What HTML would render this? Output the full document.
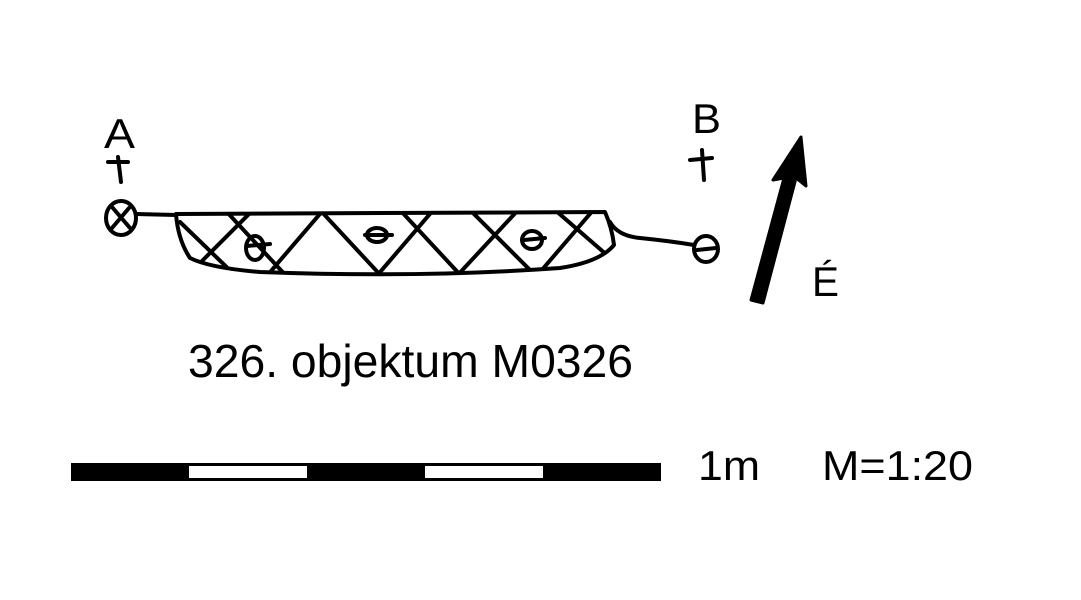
<!DOCTYPE html>
<html><head><style>html,body{margin:0;padding:0;background:#fff;}svg{display:block}</style></head>
<body>
<svg width="1081" height="600" viewBox="0 0 1081 600" xmlns="http://www.w3.org/2000/svg">
<defs>
<clipPath id="pit"><path d="M176 214 L605 212 Q612 228 614 245 Q600 262 560 268 Q420 278 260 272 Q210 268 190 258 Q178 240 176 214 Z"/></clipPath>
</defs>
<rect width="1081" height="600" fill="#fff"/>
<g font-family="Liberation Sans, sans-serif" fill="#000">
<text x="104" y="148" font-size="42" textLength="31" lengthAdjust="spacingAndGlyphs">A</text>
<text x="692" y="133" font-size="42" textLength="29" lengthAdjust="spacingAndGlyphs">B</text>
<text x="812" y="296" font-size="42" textLength="27" lengthAdjust="spacingAndGlyphs">É</text>
<text x="188" y="377" font-size="46" textLength="445" lengthAdjust="spacingAndGlyphs">326. objektum M0326</text>
<text x="698" y="480" font-size="42" textLength="62" lengthAdjust="spacingAndGlyphs">1m</text>
<text x="822" y="480" font-size="42" textLength="151" lengthAdjust="spacingAndGlyphs">M=1:20</text>
</g>
<g stroke="#000" stroke-width="4" fill="none" stroke-linecap="round" stroke-linejoin="round">
<path d="M108 162 L128 162 M118 157 L121 182"/>
<path d="M690 160 L712 158 M702 150 L704 180"/>
<ellipse cx="121" cy="218" rx="15" ry="17"/>
<path d="M112 207 L130 228 M129 208 L112 228"/>
<ellipse cx="706" cy="249" rx="12" ry="13"/>
<path d="M697 250 L716 248"/>
<path d="M136 214 L176 215"/>
<path d="M610 222 Q618 236 640 238 Q670 241 694 245"/>
<path d="M176 214 L605 212 Q612 228 614 245 Q600 262 560 268 Q420 278 260 272 Q210 268 190 258 Q178 240 176 214 Z"/>
<g clip-path="url(#pit)">
<path d="M195 268 L255 208 M265 278 L325 208 M375 278 L435 208 M455 278 L520 208 M535 278 L595 208
M180 222 L240 280 M225 210 L290 280 M320 210 L385 280 M400 210 L465 280 M470 210 L540 280 M555 210 L615 262"/>
</g>
<ellipse cx="255" cy="248" rx="9" ry="12"/><path d="M247 246 L270 244"/>
<ellipse cx="377" cy="235" rx="10" ry="7"/><path d="M365 235 L392 235"/>
<ellipse cx="532" cy="240" rx="10" ry="9"/><path d="M524 240 L545 238"/>
</g>
<polygon points="751,300 763,303 796,178 806,186 801,137 773,180 784,178" fill="#000" stroke="#000" stroke-width="3" stroke-linejoin="round"/>
<rect x="71" y="463" width="590" height="18" fill="#000"/>
<rect x="189" y="466" width="118" height="12" fill="#fff"/>
<rect x="425" y="466" width="118" height="12" fill="#fff"/>
</svg>
</body></html>
